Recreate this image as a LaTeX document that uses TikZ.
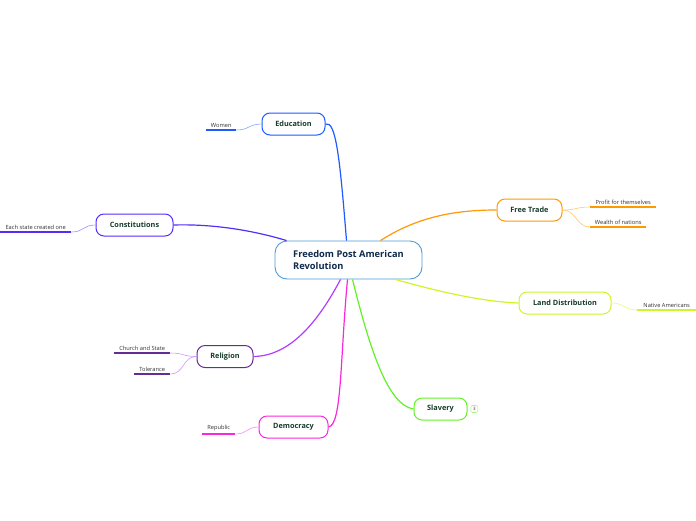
\documentclass[tikz,border=0pt]{standalone}
\usepackage{fontspec}
\setmainfont{Open Sans}
\usepackage{xcolor}
\usepackage{tikz}
\usetikzlibrary{positioning}
\definecolor{rootblue}{RGB}{79,155,215}
\definecolor{roottext}{RGB}{14,42,74}
\definecolor{topictext}{RGB}{22,60,42}
\definecolor{leaftext}{RGB}{50,50,50}
\definecolor{edublue}{RGB}{30,90,255}
\definecolor{constviolet}{RGB}{85,45,250}
\definecolor{tradeorange}{RGB}{255,153,0}
\definecolor{landlime}{RGB}{205,245,40}
\definecolor{slavegreen}{RGB}{100,240,40}
\definecolor{demomagenta}{RGB}{250,40,220}
\definecolor{relline}{RGB}{175,60,255}
\definecolor{relpurple}{RGB}{100,45,150}

\begin{document}
\begin{tikzpicture}[x=1pt,y=-1pt,
  root/.style={draw=rootblue,line width=0.9pt,rounded corners=12pt,fill=white,
    minimum width=147pt,minimum height=38pt,align=left,text=roottext,
    font=\fontsize{9.3}{12.5}\selectfont\bfseries},
  topic/.style={draw=#1,line width=1pt,rounded corners=8pt,fill=white,
    minimum height=22pt,text=topictext,font=\fontsize{7.3}{9}\selectfont\bfseries},
  branch/.style={draw=#1,line width=1.2pt},
  leaf/.style={anchor=south west,inner xsep=0pt,inner ysep=2.5pt,
    text=leaftext,font=\fontsize{5.7}{6.5}\selectfont},
  uline/.style={draw=#1,line width=1.3pt},
  twig/.style={draw=#1!55,line width=0.6pt}]

  \useasboundingbox (0,0) rectangle (696,520);

  % central topic
  \node[root] (rev) at (348.5,260) {Freedom Post American\\Revolution};

  % main topics
  \node[topic=edublue,minimum width=63pt] (edu) at (293.5,124) {Education};
  \node[topic=constviolet,minimum width=77pt] (const) at (134.5,225) {Constitutions};
  \node[topic=tradeorange,minimum width=65pt] (trade) at (529.5,210) {Free Trade};
  \node[topic=landlime,minimum width=92pt] (land) at (565,303) {Land Distribution};
  \node[topic=slavegreen,minimum width=53pt] (slave) at (440.5,409) {Slavery};
  \node[topic=demomagenta,minimum width=69pt] (demo) at (293.5,427) {Democracy};
  \node[topic=relpurple,minimum width=56pt] (relig) at (225,356.5) {Religion};

  \node[draw=slavegreen!55,line width=0.6pt,rounded corners=1.5pt,inner sep=0pt,
        minimum size=7pt,text=leaftext,font=\fontsize{4.5}{5}\selectfont,
        right=3pt of slave] (count) {3};

  % branches from the centre
  \draw[branch=edublue] ([xshift=-2pt]rev.north) .. controls (340,160) and (336,120) .. (edu.east);
  \draw[branch=constviolet] ([xshift=-62pt]rev.north) .. controls (245,228) and (205,224) .. (const.east);
  \draw[branch=tradeorange] ([xshift=32pt]rev.north) .. controls (420,215) and (460,210) .. (trade.west);
  \draw[branch=landlime] ([xshift=47pt]rev.south) .. controls (450,295) and (490,302) .. (land.west);
  \draw[branch=slavegreen] ([xshift=4pt]rev.south) .. controls (370,350) and (388,405) .. (slave.west);
  \draw[branch=demomagenta] ([xshift=-1pt]rev.south) .. controls (340,360) and (342,425) .. (demo.east);
  \draw[branch=relline] ([xshift=-8pt]rev.south) .. controls (318,322) and (290,356) .. (relig.east);

  % leaves
  \node[leaf,minimum width=30pt] (women) at (206,130) {Women};
  \node[leaf,minimum width=71pt] (each) at (0,232) {Each state created one};
  \node[leaf,minimum width=66pt] (profit) at (590,207) {Profit for themselves};
  \node[leaf,minimum width=56pt] (wealth) at (590,227) {Wealth of nations};
  \node[leaf,minimum width=59pt] (native) at (637,310) {Native Americans};
  \node[leaf,minimum width=56pt] (church) at (114,353) {Church and State};
  \node[leaf,minimum width=36pt] (toler) at (134,374) {Tolerance};
  \node[leaf,minimum width=33pt] (repub) at (202,434) {Republic};

  \draw[uline=edublue] (women.south west) -- (women.south east);
  \draw[uline=constviolet] (each.south west) -- (each.south east);
  \draw[uline=tradeorange] (profit.south west) -- (profit.south east);
  \draw[uline=tradeorange] (wealth.south west) -- (wealth.south east);
  \draw[uline=landlime] (native.south west) -- (native.south east);
  \draw[uline=relpurple] (church.south west) -- (church.south east);
  \draw[uline=relpurple] (toler.south west) -- (toler.south east);
  \draw[uline=demomagenta] (repub.south west) -- (repub.south east);

  \draw[twig=edublue] (edu.west) .. controls +(-13,0) and +(13,0) .. (women.south east);
  \draw[twig=constviolet] (const.west) .. controls +(-13,0) and +(13,0) .. (each.south east);
  \draw[twig=tradeorange] (trade.east) .. controls +(14,0) and +(-14,0) .. (profit.south west);
  \draw[twig=tradeorange] (trade.east) .. controls +(14,0) and +(-14,0) .. (wealth.south west);
  \draw[twig=landlime] (land.east) .. controls +(13,0) and +(-13,0) .. (native.south west);
  \draw[twig=relline] (relig.west) .. controls +(-14,0) and +(14,0) .. (church.south east);
  \draw[twig=relline] (relig.west) .. controls +(-14,0) and +(14,0) .. (toler.south east);
  \draw[twig=demomagenta] (demo.west) .. controls +(-12,0) and +(12,0) .. (repub.south east);

\end{tikzpicture}
\end{document}
